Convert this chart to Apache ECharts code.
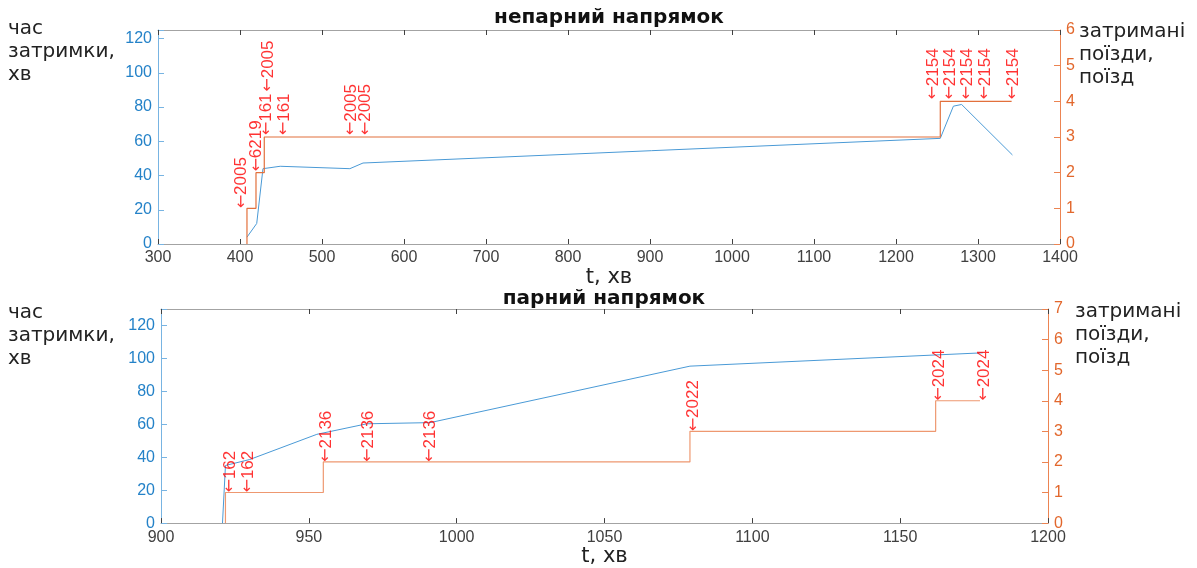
<!DOCTYPE html>
<html>
<head>
<meta charset="utf-8">
<script src="https://cdn.jsdelivr.net/npm/echarts@6/dist/echarts.min.js"></script>
<style>
  html, body { margin: 0; padding: 0; background: #fff; }
  #chart { width: 1197px; height: 568px; }
</style>
</head>
<body>
<div id="chart"></div>
<script>
// непарний напрямок: delay (left axis) and delayed trains (right axis)
const upDelayT = [408.5, 420.4, 428, 449, 534, 550, 1254, 1270, 1280, 1342]
const upDelayV = [4, 12, 44, 45.4, 44, 47.3, 61.7, 80.5, 81.5, 52]
const upStepT = [408.5, 408.5, 419.5, 429.6, 1254, 1341]
const upStepN = [0, 1, 2, 3, 4, 4]
const upNoteT = [402, 420, 432.4, 434.5, 454, 535.4, 553, 1245, 1266, 1287, 1308.5, 1342.7]
const upNoteN = [1, 2.03, 3.05, 4.27, 3.05, 3.05, 3.05, 4.05, 4.05, 4.05, 4.05, 4.05]
const upNoteLabel = ['2005', '6219', '161', '2005', '161', '2005', '2005', '2154', '2154', '2154', '2154', '2154']

// парний напрямок
const downDelayT = [920.8, 921.8, 930, 952.7, 969.6, 991, 1078.9, 1178]
const downDelayV = [0, 35, 38.6, 53.9, 60.3, 61, 95.3, 103.4]
const downStepT = [921.8, 921.8, 954.9, 1078.9, 1162, 1177]
const downStepN = [0, 1, 2, 3, 4, 4]
const downNoteT = [923.3, 929.5, 955.9, 970, 991, 1080.2, 1163.1, 1178.3]
const downNoteN = [1, 1, 2, 2, 2, 3, 4, 4]
const downNoteLabel = ['162', '162', '2136', '2136', '2136', '2022', '2024', '2024']

const FONT = 'Liberation Sans, Arial, sans-serif'
const WIDE = 'DejaVu Sans, sans-serif'
const BLUE = '#4a9ad6'
const ORANGE = '#e2703c'

const pairs = (xs, ys) => xs.map((x, i) => [x, ys[i]])
const notes = (xs, ys, names) => xs.map((x, i) => ({ name: names[i], value: [x, ys[i]] }))

function xAx(gridIndex, min, max, interval, top) {
  return {
    type: 'value', gridIndex, min, max, interval,
    position: top ? 'top' : 'bottom',
    axisLine: { show: true, onZero: false, lineStyle: { color: '#a3a3a3' } },
    axisTick: { show: true, inside: true, length: 5, lineStyle: { color: '#404040' } },
    axisLabel: { show: !top, color: '#404040', fontSize: 16, margin: 6, fontFamily: FONT, formatter: v => String(v) },
    splitLine: { show: false },
    name: top ? '' : 't, хв',
    nameLocation: 'middle',
    nameGap: 19,
    nameTextStyle: { color: '#222', fontSize: 21, fontFamily: WIDE }
  }
}

function yAx(gridIndex, max, interval, right, shown) {
  const line = right ? '#ec8452' : '#78b4e2'
  const text = right ? '#e2672c' : '#2482c8'
  return {
    type: 'value', gridIndex, min: 0, max, interval,
    position: right ? 'right' : 'left',
    axisLine: { show: true, lineStyle: { color: line } },
    axisTick: { show: true, inside: true, length: 6, lineStyle: { color: line } },
    axisLabel: {
      color: text, fontSize: 16, margin: 6, fontFamily: FONT,
      formatter: v => (v <= shown && v % interval === 0 ? String(v) : '')
    },
    splitLine: { show: false }
  }
}

function noteSeries(xi, yi, data) {
  return {
    type: 'scatter', xAxisIndex: xi, yAxisIndex: yi,
    symbolSize: 0, silent: true, z: 5,
    data,
    label: {
      show: true, position: [0, 0], rotate: 90,
      align: 'left', verticalAlign: 'middle',
      color: '#ff0000', fontSize: 17, fontFamily: FONT,
      formatter: p => '{a|←}' + p.name,
      rich: { a: { fontFamily: WIDE, fontSize: 16, color: '#ff0000' } }
    }
  }
}

const nameStyle = { font: '20px ' + WIDE, lineHeight: 23, fill: '#222' }

const chart = echarts.init(document.getElementById('chart'))
chart.setOption({
  animation: false,
  grid: [
    { left: 158, right: 137, top: 30, height: 214 },
    { left: 161, right: 149, top: 309, height: 220 }
  ],
  xAxis: [
    xAx(0, 300, 1400, 100, false),
    xAx(0, 300, 1400, 100, true),
    xAx(1, 900, 1200, 50, false),
    xAx(1, 900, 1200, 50, true)
  ],
  yAxis: [
    yAx(0, 125, 20, false, 120),
    yAx(0, 6, 1, true, 6),
    yAx(1, 130, 20, false, 120),
    yAx(1, 7, 1, true, 7)
  ],
  graphic: [
    { type: 'text', x: 609, y: 8, style: { text: 'непарний напрямок', font: 'bold 20px ' + WIDE, fill: '#111', textAlign: 'center' } },
    { type: 'text', x: 604, y: 289, style: { text: 'парний напрямок', font: 'bold 20px ' + WIDE, fill: '#111', textAlign: 'center' } },
    { type: 'text', x: 8, y: 17, style: Object.assign({ text: 'час\nзатримки,\nхв' }, nameStyle) },
    { type: 'text', x: 8, y: 301, style: Object.assign({ text: 'час\nзатримки,\nхв' }, nameStyle) },
    { type: 'text', x: 1079, y: 20, style: Object.assign({ text: 'затримані\nпоїзди,\nпоїзд' }, nameStyle) },
    { type: 'text', x: 1075, y: 300, style: Object.assign({ text: 'затримані\nпоїзди,\nпоїзд' }, nameStyle) }
  ],
  series: [
    {
      type: 'line', xAxisIndex: 0, yAxisIndex: 0, showSymbol: false, silent: true,
      data: pairs(upDelayT, upDelayV), lineStyle: { color: BLUE, width: 1 }
    },
    {
      type: 'line', xAxisIndex: 0, yAxisIndex: 1, showSymbol: false, silent: true, step: 'end',
      data: pairs(upStepT, upStepN), lineStyle: { color: ORANGE, width: 1.2 }
    },
    noteSeries(0, 1, notes(upNoteT, upNoteN, upNoteLabel)),
    {
      type: 'line', xAxisIndex: 2, yAxisIndex: 2, showSymbol: false, silent: true,
      data: pairs(downDelayT, downDelayV), lineStyle: { color: BLUE, width: 1 }
    },
    {
      type: 'line', xAxisIndex: 2, yAxisIndex: 3, showSymbol: false, silent: true, step: 'end',
      data: pairs(downStepT, downStepN), lineStyle: { color: '#ee9870', width: 1.2 }
    },
    noteSeries(2, 3, notes(downNoteT, downNoteN, downNoteLabel))
  ]
})
</script>
</body>
</html>
